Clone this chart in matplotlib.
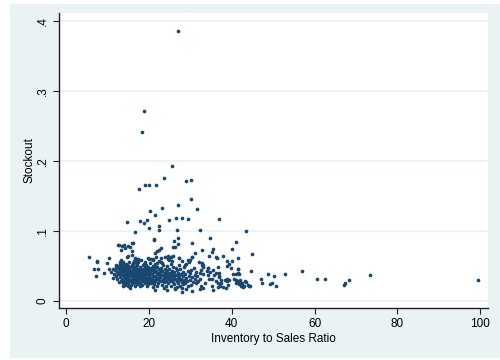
import matplotlib
matplotlib.use("Agg")
import matplotlib.pyplot as plt
from matplotlib.patches import Rectangle

# (inventory-to-sales ratio, stockout) pairs
high_points = [
    (27.07, 0.386), (18.8, 0.2706), (18.2, 0.2407), (25.5, 0.1926), (23.6, 0.175),
    (29.0, 0.171), (30.1, 0.172), (19.1, 0.165), (20.0, 0.165), (21.7, 0.165),
    (17.6, 0.160), (30.1, 0.1455), (27.07, 0.1365), (31.5, 0.1317), (23.2, 0.1322),
    (20.3, 0.128), (21.5, 0.1227), (14.6, 0.113), (17.9, 0.1146), (19.5, 0.1156),
    (18.8, 0.111), (24.8, 0.115), (26.5, 0.118), (28.0, 0.118), (29.3, 0.1165),
    (36.9, 0.117), (22.3, 0.1065), (20.1, 0.104), (22.3, 0.102), (26.75, 0.101),
    (32.3, 0.101), (43.4, 0.0999), (16.5, 0.098),
]

mid_points = [
    (34.7, 0.090), (27.07, 0.0904), (21.1, 0.088), (21.1, 0.0866), (26.0, 0.0856),
    (41.1, 0.0842), (15.9, 0.0832), (30.5, 0.0832), (27.07, 0.0813), (12.7, 0.080),
    (13.5, 0.0785), (14.8, 0.0785), (14.3, 0.0751), (22.9, 0.0761), (25.8, 0.0766),
    (13.3, 0.0728), (15.9, 0.0718), (32.8, 0.0728), (40.0, 0.0742), (35.5, 0.0737),
    (35.2, 0.0704), (21.8, 0.0709), (45.0, 0.0675), (31.1, 0.068), (37.9, 0.0642),
    (34.4, 0.0647), (5.6, 0.0623), (10.3, 0.0618), (41.6, 0.0609), (36.3, 0.0623),
    (14.7, 0.0633), (7.5, 0.0575), (7.5, 0.0552), (9.8, 0.0537), (6.7, 0.0457),
    (7.6, 0.0452), (9.0, 0.0404), (7.1, 0.0361), (38.8, 0.0504), (39.3, 0.0528),
    (40.1, 0.0571), (39.8, 0.0476), (41.4, 0.0452), (44.7, 0.0423), (40.9, 0.0385),
    (41.7, 0.0385), (40.5, 0.031), (41.0, 0.030), (41.9, 0.026), (42.3, 0.0243),
    (42.8, 0.0219), (43.4, 0.0266), (44.2, 0.0219), (12.6, 0.0804), (14.0, 0.080),
    (15.3, 0.0766), (16.0, 0.083), (14.8, 0.064), (15.8, 0.065), (16.6, 0.062),
    (17.3, 0.0595), (19.8, 0.061), (20.5, 0.0595), (21.0, 0.0604), (21.6, 0.0624),
    (25.5, 0.0575), (21.9, 0.0538), (23.1, 0.0547), (23.9, 0.0624), (24.7, 0.0604),
    (21.4, 0.068), (22.3, 0.0728), (26.3, 0.0775), (24.7, 0.064), (25.2, 0.0623),
    (27.2, 0.0618), (27.9, 0.057), (28.9, 0.053), (29.8, 0.0585), (30.4, 0.063),
    (30.3, 0.0624), (29.3, 0.0585), (32.1, 0.056), (32.7, 0.0538), (33.0, 0.0514),
    (38.8, 0.0575), (36.7, 0.0485), (41.4, 0.046), (34.25, 0.0475), (35.4, 0.0442),
    (37.0, 0.0404), (33.9, 0.0433), (36.9, 0.0338), (40.4, 0.0385), (41.6, 0.0404),
]

tail_points = [
    (47.1, 0.0314), (47.2, 0.0257), (48.7, 0.0385), (49.2, 0.0247), (49.6, 0.0252),
    (50.3, 0.0361), (50.8, 0.0214), (52.9, 0.0385), (56.9, 0.0423), (60.6, 0.0319),
    (62.5, 0.0314), (67.0, 0.0233), (67.3, 0.0262), (68.25, 0.030), (73.5, 0.0376),
    (99.4, 0.0304),
]

core_points = [
    (10.8, 0.041), (11.2, 0.046), (11.5, 0.038), (11.7, 0.044), (11.9, 0.049),
    (12.1, 0.036), (12.3, 0.042), (12.4, 0.047), (11.4, 0.033), (12.0, 0.052),
    (10.4, 0.045), (12.2, 0.031),
    (12.6, 0.039), (12.7, 0.045), (12.8, 0.050), (12.9, 0.034), (13.0, 0.042),
    (13.0, 0.055), (13.1, 0.028), (13.2, 0.047), (13.3, 0.037), (13.4, 0.052),
    (13.5, 0.031), (13.5, 0.043), (13.6, 0.049), (13.7, 0.025), (13.7, 0.039),
    (13.8, 0.056), (13.9, 0.035), (13.9, 0.046), (14.0, 0.029), (14.0, 0.041),
    (14.1, 0.051), (14.2, 0.033), (14.2, 0.044), (14.3, 0.038), (14.3, 0.023),
    (14.4, 0.048), (14.4, 0.027), (14.5, 0.053), (12.8, 0.027), (13.3, 0.058),
    (14.1, 0.036), (13.6, 0.021), (12.9, 0.053),
    (14.6, 0.031), (14.6, 0.042), (14.7, 0.036), (14.8, 0.046), (14.8, 0.025),
    (14.9, 0.039), (15.0, 0.050), (15.0, 0.033), (15.1, 0.028), (15.2, 0.044),
    (15.2, 0.055), (15.3, 0.037), (15.4, 0.030), (15.4, 0.041), (15.5, 0.048),
    (15.6, 0.023), (15.6, 0.035), (15.7, 0.043), (15.8, 0.052), (15.8, 0.027),
    (15.9, 0.038), (16.0, 0.046), (16.0, 0.032), (16.1, 0.040), (16.2, 0.025),
    (16.2, 0.050), (16.3, 0.035), (16.3, 0.044), (16.4, 0.029), (16.4, 0.057),
    (16.5, 0.038), (14.9, 0.021), (15.5, 0.019), (16.1, 0.054), (15.1, 0.047),
    (15.9, 0.031), (14.7, 0.052), (16.5, 0.048),
    (16.6, 0.033), (16.6, 0.042), (16.7, 0.027), (16.8, 0.047), (16.8, 0.037),
    (16.9, 0.030), (17.0, 0.051), (17.0, 0.040), (17.1, 0.024), (17.2, 0.044),
    (17.2, 0.034), (17.3, 0.029), (17.4, 0.055), (17.4, 0.038), (17.5, 0.046),
    (17.6, 0.031), (17.6, 0.041), (17.7, 0.026), (17.8, 0.049), (17.8, 0.036),
    (17.9, 0.043), (18.0, 0.032), (18.0, 0.058), (18.1, 0.039), (18.2, 0.028),
    (18.2, 0.046), (18.3, 0.035), (18.4, 0.042), (18.4, 0.023), (18.5, 0.051),
    (17.1, 0.058), (17.9, 0.021), (16.9, 0.054), (18.3, 0.030), (17.5, 0.033),
    (16.7, 0.022),
    (18.6, 0.037), (18.6, 0.029), (18.7, 0.044), (18.8, 0.033), (18.9, 0.048),
    (18.9, 0.025), (19.0, 0.040), (19.1, 0.035), (19.2, 0.030), (19.2, 0.046),
    (19.3, 0.052), (19.4, 0.038), (19.4, 0.027), (19.5, 0.043), (19.6, 0.033),
    (19.7, 0.049), (19.7, 0.024), (19.8, 0.039), (19.9, 0.031), (20.0, 0.045),
    (20.0, 0.036), (20.1, 0.028), (20.2, 0.041), (20.2, 0.054), (20.3, 0.033),
    (20.4, 0.047), (20.4, 0.025), (20.5, 0.038), (19.0, 0.056), (19.5, 0.021),
    (20.1, 0.060), (18.8, 0.053), (19.9, 0.042), (20.3, 0.030),
    (20.6, 0.032), (20.7, 0.044), (20.8, 0.027), (20.8, 0.039), (20.9, 0.050),
    (21.0, 0.035), (21.1, 0.030), (21.2, 0.046), (21.2, 0.024), (21.3, 0.041),
    (21.4, 0.036), (21.5, 0.053), (21.5, 0.028), (21.6, 0.043), (21.7, 0.033),
    (21.8, 0.038), (21.9, 0.022), (22.0, 0.048), (22.0, 0.031), (22.1, 0.040),
    (22.2, 0.026), (22.3, 0.035), (22.3, 0.045), (22.4, 0.057), (22.5, 0.030),
    (21.4, 0.015), (21.0, 0.059), (20.9, 0.020), (22.2, 0.038), (21.7, 0.049),
    (22.6, 0.041), (22.7, 0.034), (22.8, 0.028), (22.9, 0.047), (23.0, 0.037),
    (23.1, 0.023), (23.2, 0.043), (23.3, 0.031), (23.4, 0.052), (23.5, 0.036),
    (23.6, 0.027), (23.7, 0.040), (23.8, 0.033), (23.9, 0.046), (24.0, 0.021),
    (24.0, 0.038), (24.1, 0.029), (24.2, 0.044), (24.3, 0.016), (24.3, 0.035),
    (24.4, 0.050), (24.5, 0.031), (22.9, 0.062), (23.5, 0.019), (24.4, 0.041),
    (23.0, 0.055),
    (24.6, 0.037), (24.7, 0.026), (24.8, 0.046), (24.9, 0.033), (25.0, 0.040),
    (25.1, 0.029), (25.2, 0.053), (25.3, 0.036), (25.4, 0.022), (25.5, 0.043),
    (25.6, 0.031), (25.7, 0.038), (25.8, 0.049), (25.9, 0.027), (26.0, 0.035),
    (26.1, 0.042), (26.2, 0.018), (26.3, 0.032), (26.3, 0.017), (26.4, 0.047),
    (25.3, 0.063), (25.7, 0.064), (24.9, 0.058), (26.0, 0.024),
    (26.6, 0.037), (26.7, 0.029), (26.7, 0.020), (26.8, 0.044), (26.9, 0.033),
    (27.0, 0.040), (27.1, 0.025), (27.2, 0.051), (27.3, 0.062), (27.3, 0.035),
    (27.4, 0.030), (27.5, 0.045), (27.6, 0.022), (27.7, 0.038), (27.8, 0.032),
    (27.9, 0.013), (28.0, 0.027), (28.1, 0.042), (28.2, 0.035), (28.3, 0.024),
    (28.4, 0.048), (28.5, 0.030), (27.9, 0.019), (28.6, 0.052), (28.7, 0.025),
    (28.8, 0.038), (29.0, 0.033), (29.1, 0.028), (29.3, 0.043), (29.5, 0.022),
    (29.6, 0.036), (29.7, 0.055), (29.8, 0.030), (30.0, 0.040), (30.1, 0.023),
    (30.4, 0.034), (30.5, 0.014), (30.6, 0.027), (30.8, 0.047), (31.0, 0.037),
    (31.2, 0.031), (31.4, 0.025), (31.5, 0.027), (31.7, 0.035), (31.9, 0.029),
    (32.2, 0.040), (32.3, 0.031), (32.3, 0.017), (32.6, 0.022), (32.9, 0.051),
    (33.0, 0.049), (33.1, 0.039), (33.1, 0.019), (32.5, 0.044), (31.3, 0.042),
    (30.2, 0.044), (29.0, 0.017),
    (33.5, 0.025), (34.2, 0.047), (34.3, 0.037), (34.6, 0.031), (34.7, 0.041),
    (35.1, 0.031), (35.1, 0.021), (35.5, 0.016), (36.1, 0.028), (36.4, 0.062),
    (36.6, 0.026), (36.7, 0.020), (37.0, 0.036), (37.2, 0.021), (37.4, 0.025),
    (37.8, 0.020), (38.4, 0.030), (38.6, 0.019), (38.8, 0.028), (38.9, 0.031),
    (39.0, 0.023), (39.4, 0.030), (36.3, 0.040), (35.8, 0.037), (37.5, 0.030),
    (41.2, 0.029), (41.5, 0.027), (41.8, 0.024), (42.0, 0.030), (42.2, 0.022),
    (42.5, 0.026), (42.9, 0.021), (43.2, 0.028), (44.0, 0.023), (44.4, 0.022),
    (41.0, 0.026), (42.6, 0.020),
]

x_ticks = [0, 20, 40, 60, 80, 100]
y_ticks = [0, 0.1, 0.2, 0.3, 0.4]
y_tick_labels = ["0", ".1", ".2", ".3", ".4"]

all_points = high_points + mid_points + tail_points + core_points
ratio = [p[0] for p in all_points]
stockout = [p[1] for p in all_points]

plt.rcParams['font.family'] = ['Liberation Sans', 'DejaVu Sans']

fig = plt.figure(figsize=(5, 3.6), dpi=100)
fig.patch.set_facecolor('white')
bg = Rectangle((10 / 500, 2 / 360), 490 / 500, 354 / 360,
               transform=fig.transFigure, facecolor='#EAF2F3',
               edgecolor='none', zorder=-10)
fig.add_artist(bg)

ax = fig.add_axes([58.7 / 500, 1 - 308.3 / 360, (488.3 - 58.7) / 500, (308.3 - 12.7) / 360])
ax.set_zorder(1)
ax.set_facecolor('white')
ax.scatter(ratio, stockout, s=7, color='#1A476F', linewidths=0, zorder=3)

ax.set_xlim(-1.84, 102.0)
ax.set_ylim(-0.0104, 0.4114)
ax.set_xticks(x_ticks)
ax.set_yticks(y_ticks)
ax.set_yticklabels(y_tick_labels, rotation=90, va='center')
ax.grid(axis='y', color='#EAF2F3', linewidth=1.2, zorder=0)
ax.set_axisbelow(True)

for s in ['top', 'right']:
    ax.spines[s].set_visible(False)
for s in ['left', 'bottom']:
    ax.spines[s].set_color('#222222')
    ax.spines[s].set_linewidth(1.0)

ax.tick_params(axis='both', direction='out', length=4, width=0.8,
               color='#222222', labelsize=8.5, pad=3)
ax.set_xlabel('Inventory to Sales Ratio', fontsize=8.5, labelpad=2)
ax.set_ylabel('Stockout', fontsize=8.5, labelpad=1)

fig.savefig('out.png', dpi=100)
